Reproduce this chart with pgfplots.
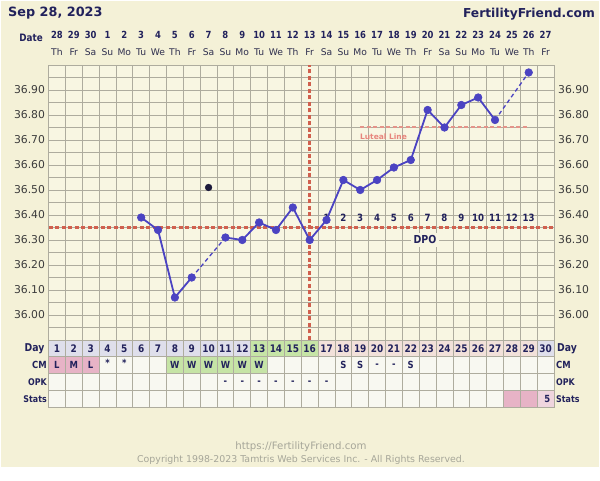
\documentclass[border=0pt]{standalone}
\usepackage{pgfplots}
\pgfplotsset{compat=1.18}
\usepackage{fontspec}
\setmainfont{DejaVu Sans}
\newfontfamily\cond[FakeStretch=0.86]{DejaVu Sans}
\definecolor{cream}{HTML}{F4F1D7}
\definecolor{plotbg}{HTML}{F8F6E2}
\definecolor{gridc}{HTML}{AEAC9E}
\definecolor{navy}{HTML}{22225C}
\definecolor{wkc}{HTML}{2E2E4E}
\definecolor{ptc}{HTML}{4B43C2}
\definecolor{redl}{HTML}{D0604E}
\definecolor{lutc}{HTML}{E4948A}
\definecolor{lav}{HTML}{DFDFEB}
\definecolor{grn}{HTML}{C6E4A6}
\definecolor{pinkday}{HTML}{F2E1DA}
\definecolor{pinkcm}{HTML}{E7B3C6}
\definecolor{pinkst}{HTML}{EFD5DE}
\definecolor{cellbg}{HTML}{F8F8F1}
\definecolor{labgray}{HTML}{3C3C3C}
\definecolor{footgray}{HTML}{A6A699}
\definecolor{discard}{HTML}{1C1A3C}
\newcommand\dnum[1]{\ifcase#1 \or28\or29\or30\or1\or2\or3\or4\or5\or6\or7\or8\or9\or10\or11\or12\or13\or14\or15\or16\or17\or18\or19\or20\or21\or22\or23\or24\or25\or26\or27\fi}
\newcommand\wday[1]{\ifcase#1 \or Th\or Fr\or Sa\or Su\or Mo\or Tu\or We\or Th\or Fr\or Sa\or Su\or Mo\or Tu\or We\or Th\or Fr\or Sa\or Su\or Mo\or Tu\or We\or Th\or Fr\or Sa\or Su\or Mo\or Tu\or We\or Th\or Fr\fi}
\newcommand\tabfont{\cond\bfseries\fontsize{9.8}{11}\selectfont}
\begin{document}
\begin{tikzpicture}
\path[use as bounding box] (0pt,0pt) rectangle (600pt,481pt);
\fill[white] (0pt,0pt) rectangle (600pt,481pt);
\fill[cream] (1pt,14pt) rectangle (599pt,480pt);
\node[anchor=base west, font=\bfseries\fontsize{12.8}{14}\selectfont, text=navy, inner sep=0] at (8pt,464.5pt) {Sep 28, 2023};
\node[anchor=base east, font=\bfseries\fontsize{12.3}{14}\selectfont, text=navy, inner sep=0] at (595pt,463pt) {FertilityFriend.com};
\node[anchor=base, font=\fontsize{10.2}{12}\selectfont, text=footgray, inner sep=0] at (301pt,31pt) {https://FertilityFriend.com};
\node[anchor=base, font=\fontsize{9.4}{10}\selectfont, text=footgray, inner sep=0] at (301pt,18pt) {Copyright 1998-2023 Tamtris Web Services Inc. - All Rights Reserved.};

% ---------- temperature chart ----------
\begin{axis}[
  at={(48.5pt,141pt)}, anchor=south west, scale only axis,
  width=505.5pt, height=275pt,
  xmin=0.5, xmax=30.5, ymin=35.9, ymax=37.0,
  xtick={0.5,1.5,...,30.5}, xticklabel=\empty,
  ytick={36.0,36.1,36.2,36.3,36.4,36.5,36.6,36.7,36.8,36.9},
  yticklabels={36.00,36.10,36.20,36.30,36.40,36.50,36.60,36.70,36.80,36.90},
  minor ytick={35.95,36.05,36.15,36.25,36.35,36.45,36.55,36.65,36.75,36.85,36.95},
  xmajorgrids, ymajorgrids, yminorgrids,
  grid style={gridc, line width=0.8pt},
  minor grid style={gridc, line width=0.8pt},
  major tick length=0pt, minor tick length=0pt,
  axis line style={draw=gridc, line width=0.8pt},
  axis background/.style={fill=plotbg},
  yticklabel style={font=\fontsize{10.8}{12}\selectfont, text=labgray},
  clip=false,
]
% header
\pgfplotsinvokeforeach{1,...,30}{
  \node[anchor=base, font=\cond\bfseries\fontsize{9.8}{11}\selectfont, text=navy, inner sep=0, yshift=26.7pt] at (axis cs:#1,37.0) {\dnum{#1}};
  \node[anchor=base, font=\fontsize{9.2}{11}\selectfont, text=wkc, inner sep=0, yshift=9pt] at (axis cs:#1,37.0) {\wday{#1}};
}
\node[anchor=base east, font=\cond\bfseries\fontsize{10.2}{12}\selectfont, text=navy, inner sep=0, xshift=-5.5pt, yshift=23.3pt] at (axis cs:0.5,37.0) {Date};
% right-hand temperature labels
\pgfplotsinvokeforeach{36.00,36.10,36.20,36.30,36.40,36.50,36.60,36.70,36.80,36.90}{
  \node[anchor=west, font=\fontsize{10.8}{12}\selectfont, text=labgray, inner sep=0, xshift=4pt] at (axis cs:30.5,#1) {#1};
}
% coverline, ovulation line, luteal line
\addplot[redl, line width=2.4pt, dash pattern=on 4pt off 2.5pt] coordinates {(0.5,36.35) (30.5,36.35)};
\addplot[redl, line width=2.4pt, dash pattern=on 4pt off 2.5pt] coordinates {(16,35.9) (16,37.0)};
\addplot[lutc, line width=2pt, dash pattern=on 4pt off 2.5pt] coordinates {(19,36.75) (29,36.75)};
\node[font=\bfseries\fontsize{7.5}{9}\selectfont, text=lutc!90!red, inner sep=0] at (axis cs:20.38,36.715) {Luteal Line};
% DPO
\pgfplotsinvokeforeach{17,...,29}{
  \node[font=\cond\bfseries\fontsize{10}{12}\selectfont, text=navy, inner sep=0] at (axis cs:#1,36.388) {\the\numexpr#1-16\relax};
}
\node[font=\cond\bfseries\fontsize{11}{12}\selectfont, text=navy, fill=plotbg, inner sep=2.5pt] at (axis cs:22.84,36.30) {DPO};
% temperatures
\addplot[ptc, line width=1.3pt, dash pattern=on 4pt off 3pt] coordinates {(9,36.15) (11,36.31)};
\addplot[ptc, line width=1.3pt, dash pattern=on 4pt off 3pt] coordinates {(27,36.78) (29,36.97)};
\addplot[ptc, line width=1.8pt, mark=*, mark size=3.8pt, mark options={solid, fill=ptc, draw=ptc, line width=0.6pt}]
  coordinates {(6,36.39) (7,36.34) (8,36.07) (9,36.15)};
\addplot[ptc, line width=1.8pt, mark=*, mark size=3.8pt, mark options={solid, fill=ptc, draw=ptc, line width=0.6pt}]
  coordinates {(11,36.31) (12,36.30) (13,36.37) (14,36.34) (15,36.43) (16,36.30) (17,36.38) (18,36.54) (19,36.50) (20,36.54) (21,36.59) (22,36.62) (23,36.82) (24,36.75) (25,36.84) (26,36.87) (27,36.78)};
\addplot[only marks, mark=*, mark size=3.8pt, mark options={fill=ptc, draw=ptc, line width=0.6pt}] coordinates {(29,36.97)};
\addplot[only marks, mark=*, mark size=3.4pt, mark options={fill=discard, draw=discard}] coordinates {(10,36.51)};
\end{axis}

% ---------- table ----------
\begin{axis}[
  at={(48.5pt,73.4pt)}, anchor=south west, scale only axis,
  width=505.5pt, height=67.6pt,
  xmin=0.5, xmax=30.5, ymin=0, ymax=4,
  xtick={0.5,1.5,...,30.5}, ytick={0,1,2,3,4},
  xticklabel=\empty, yticklabel=\empty,
  grid=major, grid style={gridc, line width=0.8pt},
  major tick length=0pt,
  axis line style={draw=gridc, line width=0.8pt},
  axis background/.style={fill=cellbg},
  axis on top, clip=false,
]
\fill[lav] (axis cs:0.5,3) rectangle (axis cs:12.5,4);
\fill[grn] (axis cs:12.5,3) rectangle (axis cs:16.5,4);
\fill[pinkday] (axis cs:16.5,3) rectangle (axis cs:29.5,4);
\fill[lav] (axis cs:29.5,3) rectangle (axis cs:30.5,4);
\fill[pinkcm] (axis cs:0.5,2) rectangle (axis cs:3.5,3);
\fill[grn] (axis cs:7.5,2) rectangle (axis cs:13.5,3);
\fill[pinkcm] (axis cs:27.5,0) rectangle (axis cs:29.5,1);
\fill[pinkst] (axis cs:29.5,0) rectangle (axis cs:30.5,1);
\pgfplotsinvokeforeach{1,...,30}{
  \node[font=\cond\bfseries\fontsize{10.4}{12}\selectfont, text=navy, inner sep=0] at (axis cs:#1,3.5) {#1};
}
\node[font=\tabfont, text=navy, inner sep=0] at (axis cs:1,2.5) {L};
\node[font=\tabfont, text=navy, inner sep=0] at (axis cs:2,2.5) {M};
\node[font=\tabfont, text=navy, inner sep=0] at (axis cs:3,2.5) {L};
\node[font=\tabfont, text=navy, inner sep=0] at (axis cs:4,2.62) {*};
\node[font=\tabfont, text=navy, inner sep=0] at (axis cs:5,2.62) {*};
\pgfplotsinvokeforeach{8,...,13}{
  \node[font=\tabfont, text=navy, inner sep=0] at (axis cs:#1,2.5) {W};
}
\node[font=\tabfont, text=navy, inner sep=0] at (axis cs:18,2.5) {S};
\node[font=\tabfont, text=navy, inner sep=0] at (axis cs:19,2.5) {S};
\node[font=\tabfont, text=navy, inner sep=0] at (axis cs:20,2.5) {-};
\node[font=\tabfont, text=navy, inner sep=0] at (axis cs:21,2.5) {-};
\node[font=\tabfont, text=navy, inner sep=0] at (axis cs:22,2.5) {S};
\pgfplotsinvokeforeach{11,...,17}{
  \node[font=\tabfont, text=navy, inner sep=0] at (axis cs:#1,1.5) {-};
}
\node[font=\tabfont, text=navy, inner sep=0] at (axis cs:30.1,0.5) {5};
% row labels
\node[anchor=east, font=\cond\bfseries\fontsize{10.8}{12}\selectfont, text=navy, inner sep=0, xshift=-4pt] at (axis cs:0.5,3.5) {Day};
\node[anchor=east, font=\cond\bfseries\fontsize{9.8}{11}\selectfont, text=navy, inner sep=0, xshift=-1.5pt] at (axis cs:0.5,2.5) {CM};
\node[anchor=east, font=\cond\bfseries\fontsize{9.2}{11}\selectfont, text=navy, inner sep=0, xshift=-1.5pt] at (axis cs:0.5,1.5) {OPK};
\node[anchor=east, font=\cond\bfseries\fontsize{9.2}{11}\selectfont, text=navy, inner sep=0, xshift=-1.5pt] at (axis cs:0.5,0.5) {Stats};
\node[anchor=west, font=\cond\bfseries\fontsize{10.8}{12}\selectfont, text=navy, inner sep=0, xshift=3pt] at (axis cs:30.5,3.5) {Day};
\node[anchor=west, font=\cond\bfseries\fontsize{9.8}{11}\selectfont, text=navy, inner sep=0, xshift=2pt] at (axis cs:30.5,2.5) {CM};
\node[anchor=west, font=\cond\bfseries\fontsize{9.2}{11}\selectfont, text=navy, inner sep=0, xshift=2pt] at (axis cs:30.5,1.5) {OPK};
\node[anchor=west, font=\cond\bfseries\fontsize{9.2}{11}\selectfont, text=navy, inner sep=0, xshift=2pt] at (axis cs:30.5,0.5) {Stats};
\end{axis}
\end{tikzpicture}
\end{document}
